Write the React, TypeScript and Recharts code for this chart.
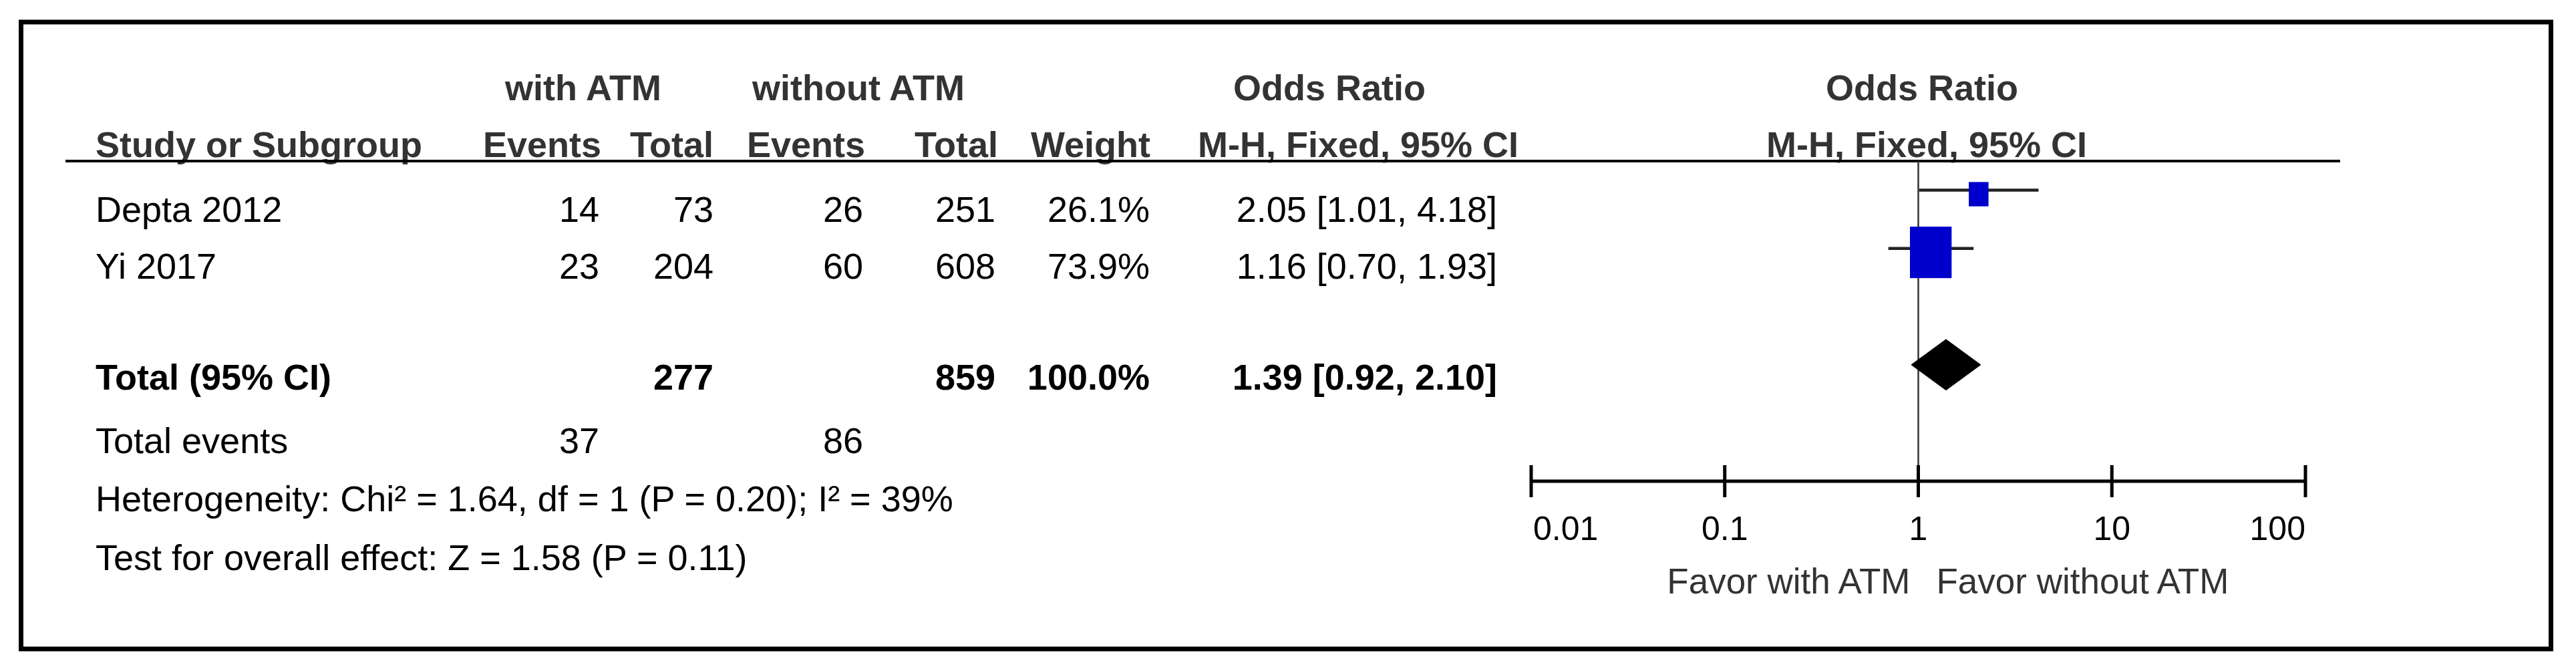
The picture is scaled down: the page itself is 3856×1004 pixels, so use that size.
import React from 'react';
import { ScatterChart, Scatter, XAxis, YAxis, Customized } from 'recharts';

// study rows
const studies = ['Depta 2012', 'Yi 2017'];
const studyRows = [0, 1];
const eventsWith = [14, 23];
const totalWith = [73, 204];
const eventsWithout = [26, 60];
const totalWithout = [251, 608];
const weights = [26.1, 73.9];
const oddsRatios = [2.05, 1.16];
const ciLower = [1.01, 0.7];
const ciUpper = [4.18, 1.93];

// pooled result
const pooledLabel = 'Total (95% CI)';
const pooledRow = 3;
const pooledTotals = [277, 859];
const pooledWeight = 100.0;
const pooledOR = [1.39, 0.92, 2.1]; // estimate, lower, upper
const totalEvents = [37, 86];
const heterogeneity = 'Heterogeneity: Chi\u00b2 = 1.64, df = 1 (P = 0.20); I\u00b2 = 39%';
const overallEffect = 'Test for overall effect: Z = 1.58 (P = 0.11)';

const xTicks = [0.01, 0.1, 1, 10, 100];
const favorLabels = ['Favor with ATM', 'Favor without ATM'];

const W = 3840;
const H = 990;
const PLOT_LEFT = 2284;
const PLOT_RIGHT = 3443;
const PLOT_TOP = 233;
const PLOT_BOTTOM = 712;
const FONT = '"Liberation Sans", Arial, sans-serif';
const FS = 54;
const HEAD = '#333';

const f2 = (v: number) => v.toFixed(2);
const orText = (e: number, l: number, u: number) => `${f2(e)} [${f2(l)}, ${f2(u)}]`;

const ciData = studies.map((_, i) => [
  { or: ciLower[i], row: studyRows[i] },
  { or: ciUpper[i], row: studyRows[i] },
]);
const squareData = studies.map((name, i) => ({
  name,
  or: oddsRatios[i],
  row: studyRows[i],
  weight: weights[i],
}));
const nullLine = [
  { or: 1, row: -0.5 },
  { or: 1, row: 5 },
];
const DIAMOND_HALF = 0.436;
const diamondData = [
  { or: pooledOR[1], row: pooledRow },
  { or: pooledOR[0], row: pooledRow - DIAMOND_HALF },
  { or: pooledOR[2], row: pooledRow },
  { or: pooledOR[0], row: pooledRow + DIAMOND_HALF },
  { or: pooledOR[1], row: pooledRow },
];

const Empty = () => <g />;

const WeightSquare = (props: any) => {
  const { cx, cy, payload } = props;
  const h = 77 * Math.pow(payload.weight / 73.9, 0.72);
  const w = h * 0.81;
  return <rect x={cx - w / 2} y={cy - h / 2 + 6} width={w} height={h} fill="#0000CC" />;
};

const AxisTick = (props: any) => {
  const { x, payload, index } = props;
  const v = payload.value;
  const y0 = PLOT_BOTTOM;
  const anchor = index === 0 ? 'start' : index === xTicks.length - 1 ? 'end' : 'middle';
  const dx = index === 0 ? 3 : 0;
  return (
    <g>
      <line x1={x} x2={x} y1={y0 - 24} y2={y0 + 24} stroke="#000" strokeWidth={5} />
      <text x={x + dx} y={y0 + 88} textAnchor={anchor} fontSize={50} fontFamily={FONT} fill="#000">
        {String(v)}
      </text>
      {v === 1 && (
        <>
          <text x={x - 12} y={y0 + 168} textAnchor="end" fontSize={53} fontFamily={FONT} fill={HEAD}>
            {favorLabels[0]}
          </text>
          <text x={x + 27} y={y0 + 168} textAnchor="start" fontSize={53} fontFamily={FONT} fill={HEAD}>
            {favorLabels[1]}
          </text>
        </>
      )}
    </g>
  );
};

// column anchors (right aligned numbers)
const COL = { label: 135, ev1: 889, tot1: 1060, ev2: 1284, tot2: 1482, wt: 1713, or: 2233 };
const ROW_Y = [324, 409];
const TOTAL_Y = 575;
const EVENTS_Y = 670;
const HET_Y = 757;
const TEST_Y = 845;

const T = ({ x, y, anchor = 'start', bold = false, color = '#000', children }: any) => (
  <text
    x={x}
    y={y}
    textAnchor={anchor}
    fontSize={FS}
    fontFamily={FONT}
    fontWeight={bold ? 'bold' : 'normal'}
    fill={color}
  >
    {children}
  </text>
);

const TableLayer = () => (
  <g>
    <rect x={23.5} y={25} width={3787} height={938} fill="none" stroke="#000" strokeWidth={7} />
    {/* header */}
    <T x={865} y={142} anchor="middle" bold color={HEAD}>with ATM</T>
    <T x={1277} y={142} anchor="middle" bold color={HEAD}>without ATM</T>
    <T x={1982} y={142} anchor="middle" bold color={HEAD}>Odds Ratio</T>
    <T x={2869} y={142} anchor="middle" bold color={HEAD}>Odds Ratio</T>
    <T x={COL.label} y={227} bold color={HEAD}>Study or Subgroup</T>
    <T x={892} y={227} anchor="end" bold color={HEAD}>Events</T>
    <T x={1060} y={227} anchor="end" bold color={HEAD}>Total</T>
    <T x={1287} y={227} anchor="end" bold color={HEAD}>Events</T>
    <T x={1486} y={227} anchor="end" bold color={HEAD}>Total</T>
    <T x={1714} y={227} anchor="end" bold color={HEAD}>Weight</T>
    <T x={2025} y={227} anchor="middle" bold color={HEAD}>M-H, Fixed, 95% CI</T>
    <T x={2876} y={227} anchor="middle" bold color={HEAD}>M-H, Fixed, 95% CI</T>
    <line x1={90} x2={3495} y1={233} y2={233} stroke="#000" strokeWidth={4} />
    {/* studies */}
    {studies.map((s, i) => (
      <g key={s}>
        <T x={COL.label} y={ROW_Y[i]}>{s}</T>
        <T x={COL.ev1} y={ROW_Y[i]} anchor="end">{eventsWith[i]}</T>
        <T x={COL.tot1} y={ROW_Y[i]} anchor="end">{totalWith[i]}</T>
        <T x={COL.ev2} y={ROW_Y[i]} anchor="end">{eventsWithout[i]}</T>
        <T x={COL.tot2} y={ROW_Y[i]} anchor="end">{totalWithout[i]}</T>
        <T x={COL.wt} y={ROW_Y[i]} anchor="end">{`${weights[i].toFixed(1)}%`}</T>
        <T x={COL.or} y={ROW_Y[i]} anchor="end">{orText(oddsRatios[i], ciLower[i], ciUpper[i])}</T>
      </g>
    ))}
    {/* totals */}
    <T x={COL.label} y={TOTAL_Y} bold>{pooledLabel}</T>
    <T x={COL.tot1} y={TOTAL_Y} anchor="end" bold>{pooledTotals[0]}</T>
    <T x={COL.tot2} y={TOTAL_Y} anchor="end" bold>{pooledTotals[1]}</T>
    <T x={COL.wt} y={TOTAL_Y} anchor="end" bold>{`${pooledWeight.toFixed(1)}%`}</T>
    <T x={COL.or} y={TOTAL_Y} anchor="end" bold>{orText(pooledOR[0], pooledOR[1], pooledOR[2])}</T>
    <T x={COL.label} y={EVENTS_Y}>Total events</T>
    <T x={COL.ev1} y={EVENTS_Y} anchor="end">{totalEvents[0]}</T>
    <T x={COL.ev2} y={EVENTS_Y} anchor="end">{totalEvents[1]}</T>
    <T x={COL.label} y={HET_Y}>{heterogeneity}</T>
    <T x={COL.label} y={TEST_Y}>{overallEffect}</T>
  </g>
);

export default function App() {
  return (
    <div style={{ width: W, height: H, background: '#fff' }}>
      <ScatterChart
        width={W}
        height={H}
        margin={{ top: PLOT_TOP, right: W - PLOT_RIGHT, bottom: H - PLOT_BOTTOM - 100, left: PLOT_LEFT }}
      >
        <XAxis
          type="number"
          dataKey="or"
          scale="log"
          domain={[0.01, 100]}
          ticks={xTicks}
          allowDataOverflow
          height={100}
          axisLine={{ stroke: '#000', strokeWidth: 5 }}
          tickLine={false}
          tick={<AxisTick />}
          interval={0}
        />
        <YAxis type="number" dataKey="row" domain={[-0.5, 5]} reversed hide allowDataOverflow width={0} />
        <Customized component={TableLayer} />
        <Scatter
          data={nullLine}
          line={{ stroke: '#333', strokeWidth: 2.5 }}
          shape={<Empty />}
          isAnimationActive={false}
        />
        {ciData.map((d, i) => (
          <Scatter
            key={studies[i]}
            data={d}
            line={{ stroke: '#222', strokeWidth: 4.5 }}
            shape={<Empty />}
            isAnimationActive={false}
          />
        ))}
        <Scatter data={squareData} shape={<WeightSquare />} isAnimationActive={false} />
        <Scatter
          data={diamondData}
          line={{ stroke: '#000', strokeWidth: 1, fill: '#000' }}
          shape={<Empty />}
          isAnimationActive={false}
        />
      </ScatterChart>
    </div>
  );
}
